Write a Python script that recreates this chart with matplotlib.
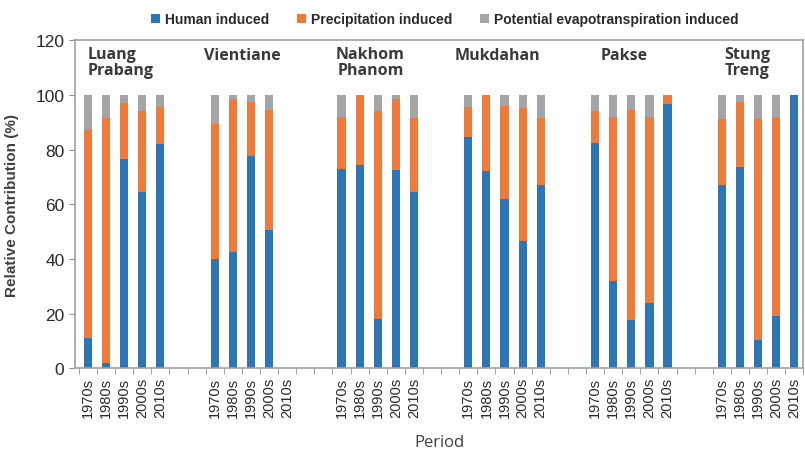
import numpy as np
import matplotlib.pyplot as plt

plt.rcParams['font.family'] = ['Liberation Sans', 'DejaVu Sans']

stations = ["Luang\nPrabang", "Vientiane", "Nakhom\nPhanom", "Mukdahan", "Pakse", "Stung\nTreng"]
periods = ["1970s", "1980s", "1990s", "2000s", "2010s"]

# human induced share (%) per station, per period
human = [
    [11, 2, 76.5, 64.5, 82],
    [40, 42.5, 77.5, 50.5, 0],
    [73, 74.5, 18, 72.5, 64.5],
    [84.5, 72, 62, 46.5, 67],
    [82.5, 32, 17.5, 24, 96.5],
    [67, 73.5, 10.5, 19, 100],
]
# top of the precipitation segment (human + precipitation)
human_precip = [
    [87, 91.5, 97, 94, 95.5],
    [89.5, 98.5, 97.5, 94.5, 0],
    [92, 100, 94, 98.5, 91.5],
    [95.5, 100, 96, 95, 91.5],
    [94, 92, 94.5, 92, 100],
    [91, 97.5, 91, 92, 100],
]

human = np.array(human, dtype=float)
precip = np.array(human_precip, dtype=float) - human
pet = np.where(np.array(human_precip) > 0, 100 - np.array(human_precip, dtype=float), 0)

# 5 period slots per station and 2 empty slots between stations
gap = 2
xpos = np.array([[g * (len(periods) + gap) + i for i in range(len(periods))]
                 for g in range(len(stations))])
nslots = xpos.max() + 1

blue = "#2e75b6"
orange = "#f07a3a"
grey = "#a5a5a5"

fig = plt.figure(figsize=(8.05, 4.52), dpi=100)
ax = fig.add_axes([0.093, 0.183, 0.905, 0.726])

w = 0.45
x = xpos.ravel()
ax.bar(x, human.ravel(), w, color=blue, label="Human induced")
ax.bar(x, precip.ravel(), w, bottom=human.ravel(), color=orange, label="Precipitation induced")
ax.bar(x, pet.ravel(), w, bottom=(human + precip).ravel(), color=grey,
       label="Potential evapotranspiration induced")

ax.set_xlim(-0.72, nslots - 1 + 0.45)
ax.set_ylim(0, 120)
ax.set_yticks(np.arange(0, 121, 20))

labels = [""] * nslots
for row in xpos:
    for i, p in zip(row, periods):
        labels[i] = p
ax.set_xticks(np.arange(nslots))
ax.set_xticklabels(labels, rotation=90, fontsize=10.5, color="#2a2a2a")
ax.set_xticks(np.arange(nslots + 1) - 0.5, minor=True)
ax.tick_params(axis="x", which="major", length=0, pad=6)
ax.tick_params(axis="x", which="minor", length=4, color="#909090", direction="out")
ax.tick_params(axis="y", length=4, color="#909090", labelsize=12.5, labelcolor="#2a2a2a")

for s in ax.spines.values():
    s.set_color("#a0a0a0")
    s.set_linewidth(1.2)

# station names above each group
name_pos = [(0, "left", 112), (xpos[1][0] - 0.6, "left", 114.5),
            (xpos[2][2] - 0.4, "center", 112), (xpos[3][2] - 0.4, "center", 114.5),
            (xpos[4][2] - 0.4, "center", 114.5), (xpos[5][2] - 0.6, "center", 112)]
for name, (xp, ha, yp) in zip(stations, name_pos):
    ax.text(xp, yp, name, ha=ha, va="center", fontsize=11.5, fontweight="bold",
            color="#3a3a3a", family=["Open Sans", "DejaVu Sans"], linespacing=1.05)

ax.set_ylabel("Relative Contribution (%)", fontsize=11, fontweight="bold",
              color="#404040", labelpad=12)
ax.set_xlabel("Period", fontsize=12, color="#404040", labelpad=12,
              family=["Open Sans", "DejaVu Sans"])

fig.legend(loc="center", bbox_to_anchor=(0.553, 0.955), ncol=3, frameon=False,
           prop={"size": 10, "weight": "bold"}, labelcolor="#2a2a2a",
           handlelength=0.6, handleheight=0.6, handletextpad=0.4,
           columnspacing=2.0)

fig.savefig("out.png", dpi=100)
